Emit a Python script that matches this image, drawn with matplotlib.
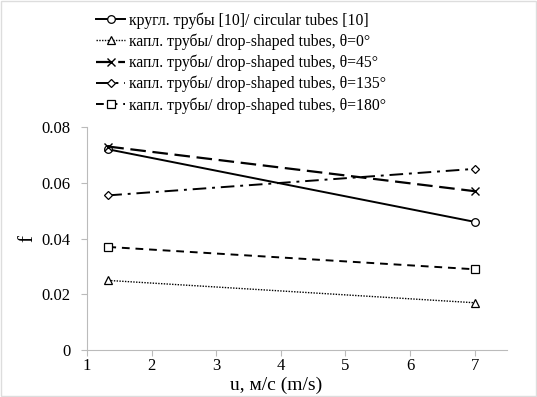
import matplotlib
matplotlib.use("Agg")
import matplotlib.pyplot as plt

plt.rcParams['font.family'] = ['Liberation Serif', 'DejaVu Serif']

u = [1.33, 7.0]
f_circ = [0.072, 0.046]
f_0 = [0.025, 0.017]
f_45 = [0.073, 0.057]
f_135 = [0.0555, 0.065]
f_180 = [0.037, 0.029]

labels = ['кругл. трубы [10]/ circular tubes [10]',
          'капл. трубы/ drop-shaped tubes, θ=0°',
          'капл. трубы/ drop-shaped tubes, θ=45°',
          'капл. трубы/ drop-shaped tubes, θ=135°',
          'капл. трубы/ drop-shaped tubes, θ=180°']

fig = plt.figure(figsize=(5.37, 3.97), dpi=100)
ax = fig.add_axes([0.162, 0.118, 0.782, 0.562])

k = 'black'
ax.plot(u, f_circ, color=k, lw=1.4, ls='-', marker='o', ms=5.5, mfc='white', mew=0.9)
ax.plot(u, f_0, color=k, lw=1.0, ls=(0, (1, 1)), marker='^', ms=5.5, mfc='white', mew=0.9)
ax.plot(u, f_45, color=k, lw=1.6, ls=(0, (7, 3)), marker='x', ms=6, mew=1.0)
ax.plot(u, f_135, color=k, lw=1.4, ls=(0, (7, 3, 1.5, 3)), marker='D', ms=4, mfc='white', mew=0.9)
ax.plot(u, f_180, color=k, lw=1.4, ls=(0, (4, 3)), marker='s', ms=5.5, mfc='white', mew=0.9)

ax.set_xlim(1, 7.5)
ax.set_ylim(0, 0.08)
ax.set_xticks([1, 2, 3, 4, 5, 6, 7])
ax.set_yticks([0, 0.02, 0.04, 0.06, 0.08])
ax.set_yticklabels(['0', '0.02', '0.04', '0.06', '0.08'])
ax.tick_params(labelsize=12, length=4, color='#bbbbbb')
ax.tick_params(axis='y', pad=8)
ax.tick_params(axis='x', pad=2)
ax.spines['top'].set_visible(False)
ax.spines['right'].set_visible(False)
ax.spines['left'].set_color('#bbbbbb')
ax.spines['bottom'].set_color('#bbbbbb')
ax.set_xlabel('u, м/с (m/s)', fontsize=14, labelpad=0)
ax.xaxis.set_label_coords(0.45, -0.118)
ax.set_ylabel('f', fontsize=15)
ax.yaxis.set_label_coords(-0.118, 0.5)

handles = [l for l in ax.get_lines()]
fig.legend(handles, labels, loc='upper left', bbox_to_anchor=(0.168, 0.985),
           frameon=False, fontsize=11.3, handlelength=1.8, handletextpad=0.3,
           labelspacing=0.3, borderaxespad=0)

fig.patches.append(plt.Rectangle((0.002, 0.002), 0.996, 0.996, transform=fig.transFigure,
                                 fill=False, edgecolor='#dddddd', lw=1))

fig.savefig('out.png', dpi=100)
